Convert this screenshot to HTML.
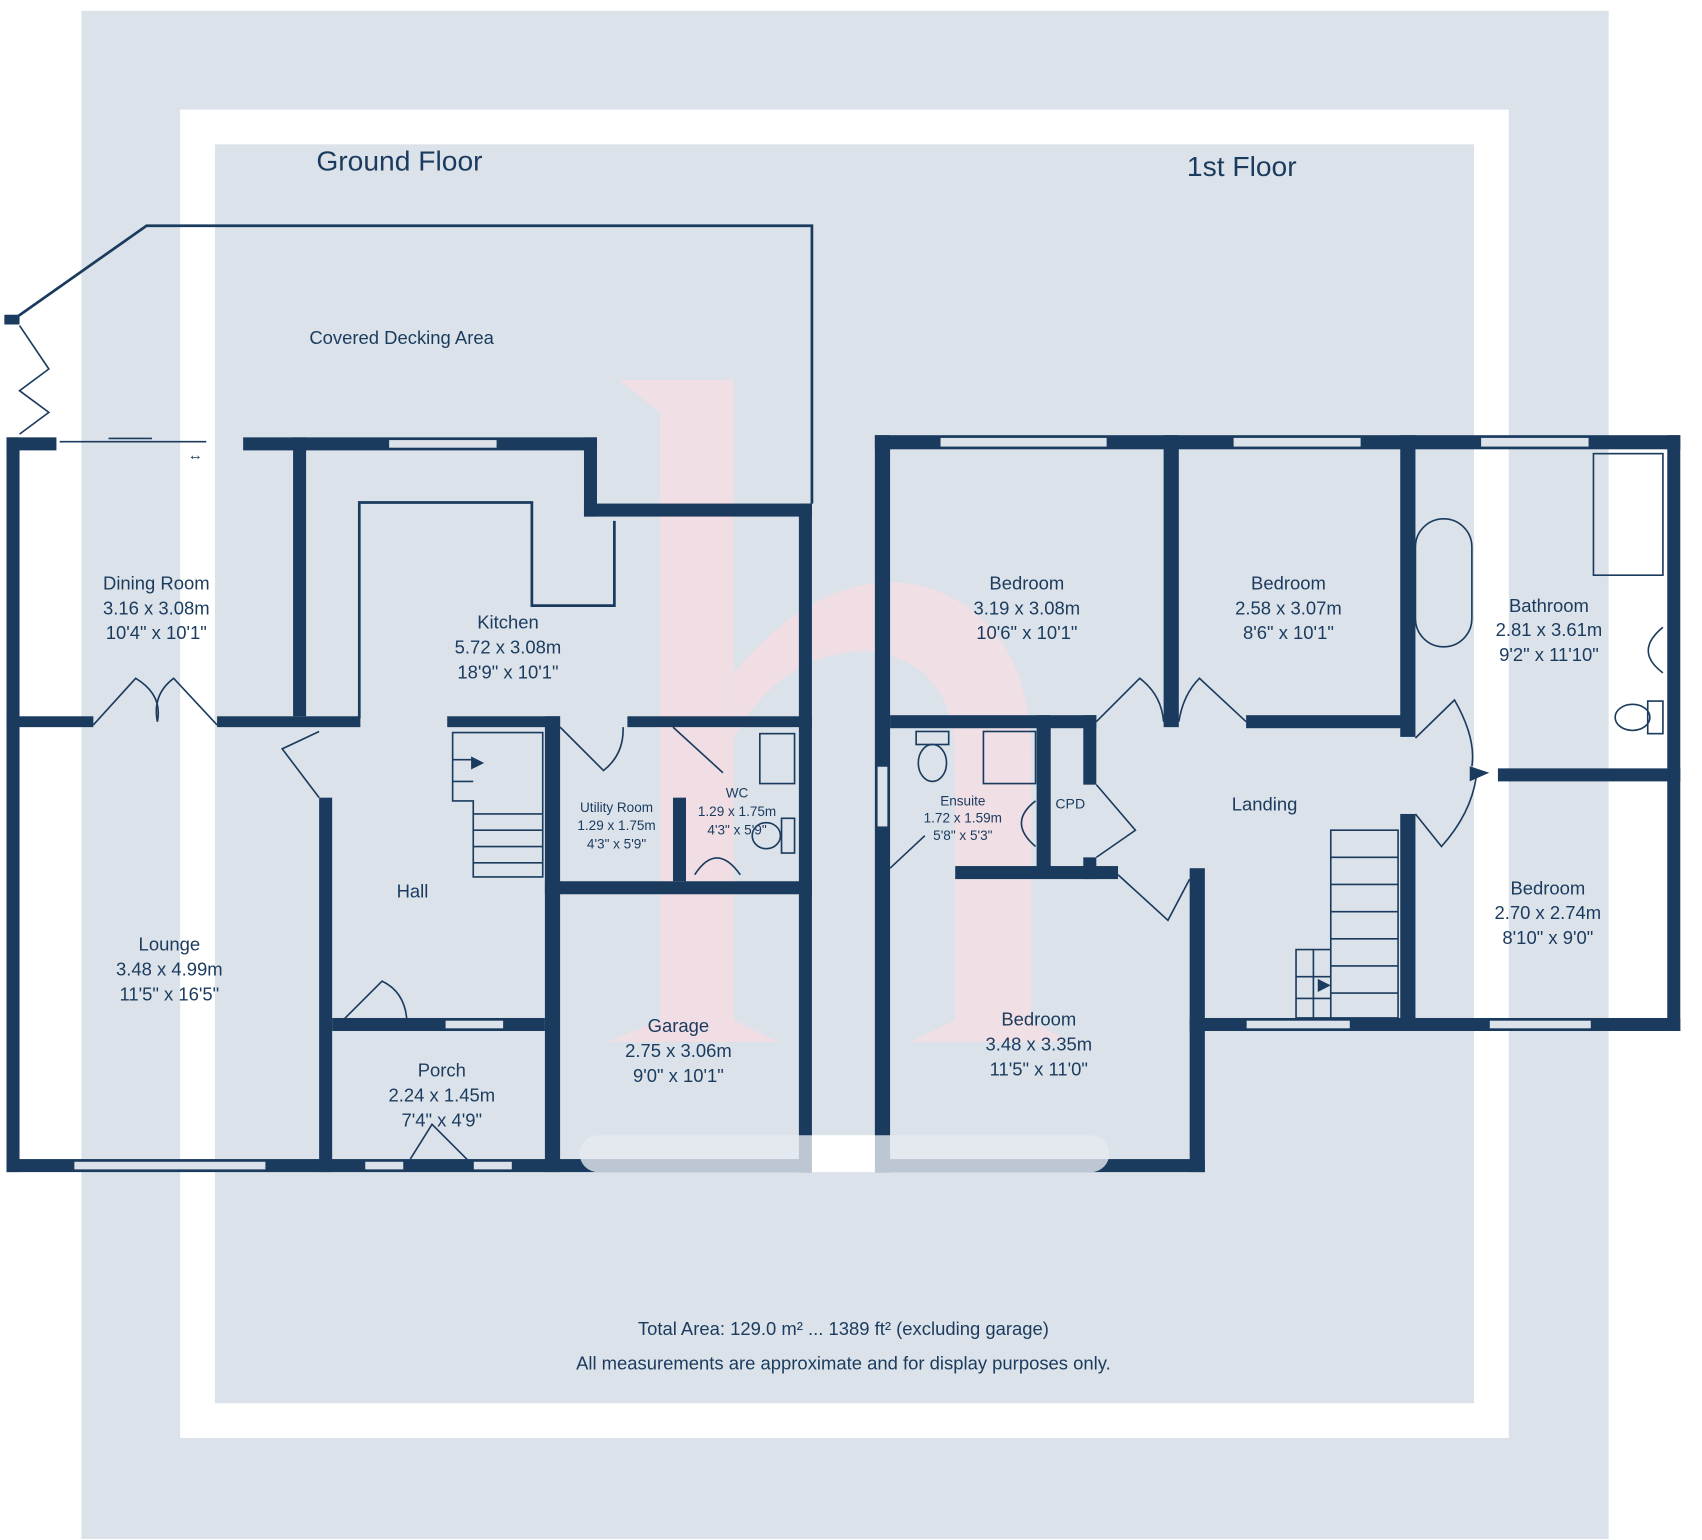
<!DOCTYPE html>
<html><head><meta charset="utf-8">
<style>
html,body{margin:0;padding:0;background:#fff;}
svg{display:block;}
text{font-family:"Liberation Sans",sans-serif;fill:#1b3b5e;text-anchor:middle;}
</style></head>
<body>
<svg width="1702" height="1540" viewBox="0 0 1568 1419" preserveAspectRatio="none" xmlns="http://www.w3.org/2000/svg">
<rect x="0" y="0" width="1568" height="1419" fill="#fff"/>
<rect x="75" y="10" width="1407" height="1408" fill="#dbe2ea"/>
<rect x="166" y="101" width="1224" height="1224" fill="#fff"/>
<rect x="198" y="133" width="1160" height="1160" fill="#dbe2ea"/>
<!-- watermark h -->
<g fill="#f7dde2" opacity="0.75">
<path d="M570 350 L676 350 L676 940 L718 960 L560 960 L608 940 L608 380 Z"/>
<path d="M676 620 Q760 520 850 540 Q950 570 950 700 L950 940 L985 960 L838 960 L880 940 L880 700 Q880 610 800 600 Q720 600 676 680 Z"/>
</g>
<!-- covered decking outline -->
<g fill="none" stroke="#1b3b5e" stroke-width="2.5">
<path d="M10 296 L135 208 L748 208 L748 464"/>
<path d="M331 662 L331 463 L490 463 L490 558 L566 558 L566 480"/>
<path d="M18 300 L45 340 L18 360 L45 380 L18 400" stroke-width="1.5"/>
<path d="M55 407 L190 407" stroke-width="1.5"/>
<path d="M100 404 L140 404" stroke-width="1.5"/>
</g>
<text x="180" y="424" font-size="14">↔</text>
<!-- walls -->
<g fill="#1b3b5e">
<rect x="4" y="290" width="14" height="9"/>
<rect x="6" y="403" width="12" height="677"/>
<rect x="6" y="1068" width="742" height="12"/>
<rect x="6" y="403" width="46" height="12"/>
<rect x="224" y="403" width="326" height="12"/>
<rect x="270" y="403" width="12" height="257"/>
<rect x="538" y="403" width="12" height="73"/>
<rect x="538" y="464" width="210" height="12"/>
<rect x="736" y="464" width="12" height="616"/>
<rect x="6" y="660" width="80" height="10"/>
<rect x="200" y="660" width="132" height="10"/>
<rect x="412" y="660" width="104" height="10"/>
<rect x="578" y="660" width="170" height="10"/>
<rect x="294" y="735" width="12" height="345"/>
<rect x="502" y="660" width="14" height="420"/>
<rect x="620" y="735" width="12" height="77"/>
<rect x="502" y="812" width="246" height="12"/>
<rect x="306" y="938" width="196" height="12"/>
<rect x="806" y="401" width="14" height="679"/>
<rect x="806" y="401" width="742" height="13"/>
<rect x="1536" y="401" width="12" height="549"/>
<rect x="806" y="1068" width="304" height="12"/>
<rect x="1096" y="800" width="14" height="280"/>
<rect x="1096" y="938" width="452" height="12"/>
<rect x="1072" y="401" width="14" height="269"/>
<rect x="1290" y="401" width="14" height="278"/>
<rect x="1290" y="750" width="14" height="195"/>
<rect x="820" y="659" width="190" height="12"/>
<rect x="1148" y="659" width="152" height="12"/>
<rect x="1380" y="708" width="168" height="12"/>
<rect x="955" y="659" width="13" height="141"/>
<rect x="998" y="659" width="12" height="64"/>
<rect x="998" y="790" width="12" height="20"/>
<rect x="880" y="798" width="150" height="12"/>
</g>
<!-- windows -->
<g fill="#dbe2ea" stroke="#1b3b5e" stroke-width="1">
<rect x="358" y="405" width="100" height="8"/>
<rect x="68" y="1070" width="177" height="8"/>
<rect x="336" y="1070" width="36" height="8"/>
<rect x="436" y="1070" width="36" height="8"/>
<rect x="410" y="940" width="54" height="8"/>
<rect x="866" y="403" width="154" height="9"/>
<rect x="1136" y="403" width="118" height="9"/>
<rect x="1364" y="403" width="100" height="9"/>
<rect x="1148" y="940" width="96" height="8"/>
<rect x="1372" y="940" width="94" height="8"/>
<rect x="808" y="706" width="10" height="56"/>
</g>
<!-- garage door highlight -->
<rect x="534" y="1046" width="488" height="34" rx="17" fill="#e6ebf1" opacity="0.8"/>
<rect x="748" y="1046" width="58" height="34" fill="#fff"/>
<!-- doors & fixtures -->
<g fill="none" stroke="#1b3b5e" stroke-width="1.5">
<path d="M86 668 L125 625 Q150 640 145 665"/><path d="M200 668 L160 625 Q140 640 145 665"/>
<path d="M294 735 L260 690 L294 674"/>
<path d="M516 670 L556 710 Q575 695 574 670"/>
<path d="M620 670 L666 712"/>
<path d="M316 940 L352 904 Q375 915 375 945"/>
<path d="M378 1068 L398 1036 L436 1074"/>
<path d="M1010 665 L1050 625 Q1070 640 1072 665"/>
<path d="M1148 665 L1105 625 Q1090 640 1086 665"/>
<path d="M1304 680 L1340 645 Q1360 680 1356 706"/><path d="M1304 750 L1328 780 Q1355 750 1360 716"/>
<path d="M1010 723 L1046 765 L1010 790"/>
<path d="M820 800 L852 770"/>
<path d="M1030 806 L1076 848 L1096 810"/>
<path d="M417 675 L500 675 L500 808 L436 808 L436 738 L417 738 Z"/>
<path d="M436 750 L500 750 M436 765 L500 765 M436 780 L500 780 M436 795 L500 795 M417 700 L436 700 M417 720 L436 720"/>
<path d="M1226 765 L1288 765 L1288 938 L1226 938 Z M1194 875 L1226 875 L1226 938 L1194 938 Z"/>
<path d="M1226 790 L1288 790 M1226 815 L1288 815 M1226 840 L1288 840 M1226 865 L1288 865 M1226 890 L1288 890 M1226 915 L1288 915 M1194 900 L1226 900 M1194 920 L1226 920 M1210 875 L1210 938"/>
<rect x="1304" y="478" width="52" height="118" rx="26"/>
<rect x="1468" y="418" width="64" height="112"/>
<rect x="906" y="674" width="48" height="48"/>
<rect x="844" y="674" width="30" height="12"/><ellipse cx="859" cy="703" rx="13" ry="17"/>
<path d="M954 738 Q928 758 954 780"/>
<path d="M1532 578 Q1505 600 1532 620"/>
<rect x="1518" y="646" width="14" height="30"/><ellipse cx="1504" cy="661" rx="16" ry="12"/>
<rect x="720" y="754" width="12" height="32"/><ellipse cx="706" cy="770" rx="13" ry="12"/>
<path d="M640 806 Q660 775 682 806"/>
<rect x="700" y="676" width="32" height="46"/>
</g>
<polygon points="434,697 446,703 434,709" fill="#1b3b5e"/>
<polygon points="1214,902 1226,908 1214,914" fill="#1b3b5e"/>
<polygon points="1354,706 1372,712 1354,720" fill="#1b3b5e"/>
<!-- labels -->
<text x="368" y="157" font-size="26">Ground Floor</text>
<text x="1144" y="162" font-size="26">1st Floor</text>
<text x="370" y="317" font-size="17">Covered Decking Area</text>
<g font-size="17">
<text x="144" y="543">Dining Room</text><text x="144" y="566">3.16 x 3.08m</text><text x="144" y="589">10'4" x 10'1"</text>
<text x="468" y="579">Kitchen</text><text x="468" y="602">5.72 x 3.08m</text><text x="468" y="625">18'9" x 10'1"</text>
<text x="156" y="876">Lounge</text><text x="156" y="899">3.48 x 4.99m</text><text x="156" y="922">11'5" x 16'5"</text>
<text x="380" y="827">Hall</text>
<text x="407" y="992">Porch</text><text x="407" y="1015">2.24 x 1.45m</text><text x="407" y="1038">7'4" x 4'9"</text>
<text x="625" y="951">Garage</text><text x="625" y="974">2.75 x 3.06m</text><text x="625" y="997">9'0" x 10'1"</text>
<text x="946" y="543">Bedroom</text><text x="946" y="566">3.19 x 3.08m</text><text x="946" y="589">10'6" x 10'1"</text>
<text x="1187" y="543">Bedroom</text><text x="1187" y="566">2.58 x 3.07m</text><text x="1187" y="589">8'6" x 10'1"</text>
<text x="1427" y="564">Bathroom</text><text x="1427" y="586">2.81 x 3.61m</text><text x="1427" y="609">9'2" x 11'10"</text>
<text x="1165" y="747">Landing</text>
<text x="1426" y="824">Bedroom</text><text x="1426" y="847">2.70 x 2.74m</text><text x="1426" y="870">8'10" x 9'0"</text>
<text x="957" y="945">Bedroom</text><text x="957" y="968">3.48 x 3.35m</text><text x="957" y="991">11'5" x 11'0"</text>
<text x="777" y="1230">Total Area: 129.0 m² ... 1389 ft² (excluding garage)</text>
<text x="777" y="1262">All measurements are approximate and for display purposes only.</text>
</g>
<g font-size="12.5">
<text x="568" y="748">Utility Room</text><text x="568" y="765">1.29 x 1.75m</text><text x="568" y="782">4'3" x 5'9"</text>
<text x="679" y="735">WC</text><text x="679" y="752">1.29 x 1.75m</text><text x="679" y="769">4'3" x 5'9"</text>
<text x="887" y="742">Ensuite</text><text x="887" y="758">1.72 x 1.59m</text><text x="887" y="774">5'8" x 5'3"</text>
<text x="986" y="745" font-size="13">CPD</text>
</g>
</svg>
</body></html>
